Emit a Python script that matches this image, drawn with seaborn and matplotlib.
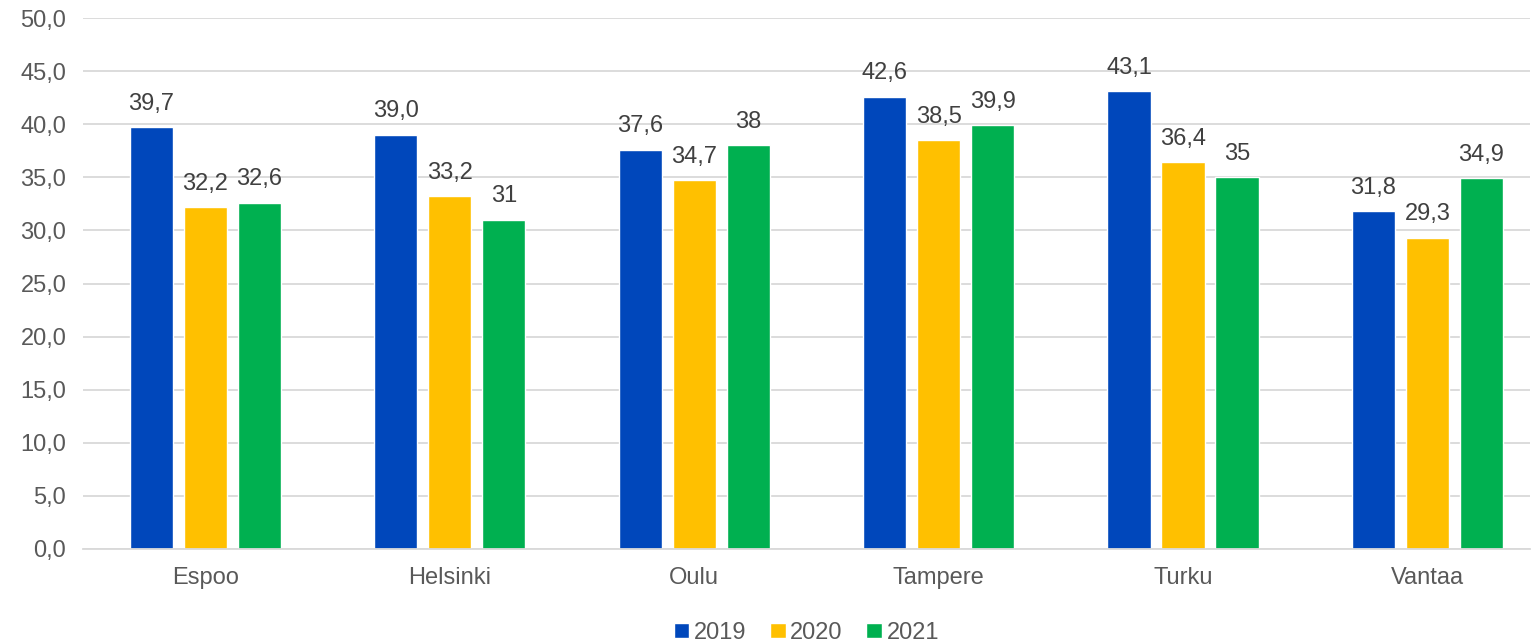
import matplotlib
matplotlib.use("Agg")
import matplotlib.pyplot as plt
import seaborn as sns
import pandas as pd

# data
cities = ["Espoo", "Helsinki", "Oulu", "Tampere", "Turku", "Vantaa"]
years = ["2019", "2020", "2021"]
v2019 = [39.7, 39.0, 37.6, 42.6, 43.1, 31.8]
v2020 = [32.2, 33.2, 34.7, 38.5, 36.4, 29.3]
v2021 = [32.6, 31.0, 38.0, 39.9, 35.0, 34.9]
# labels as shown in the original (some without decimals)
lab2019 = ["39,7", "39,0", "37,6", "42,6", "43,1", "31,8"]
lab2020 = ["32,2", "33,2", "34,7", "38,5", "36,4", "29,3"]
lab2021 = ["32,6", "31", "38", "39,9", "35", "34,9"]
yticks = [0, 5, 10, 15, 20, 25, 30, 35, 40, 45, 50]

colors = ["#0047BB", "#FFC000", "#00B050"]

rows = []
for y, vals in zip(years, [v2019, v2020, v2021]):
    for c, v in zip(cities, vals):
        rows.append({"city": c, "year": y, "value": v})
df = pd.DataFrame(rows)

sns.set_style("white")
plt.rcParams["font.family"] = ["Liberation Sans", "DejaVu Sans"]

fig = plt.figure(figsize=(15.32, 6.41), dpi=100)
ax = fig.add_axes([83 / 1532, 1 - 549 / 641, 1447 / 1532, 531 / 641])

sns.barplot(data=df, x="city", y="value", hue="year", order=cities,
            hue_order=years, palette=colors, width=0.663, gap=0.2,
            saturation=1, ax=ax, legend=True)

for cont, labs in zip(ax.containers, [lab2019, lab2020, lab2021]):
    ax.bar_label(cont, labels=labs, padding=9, fontsize=17, color="#404040")

ax.set_ylim(0, 50)
ax.set_xlim(-0.501, 5.42)
ax.set_yticks(yticks)
ax.set_yticklabels([f"{t:.1f}".replace(".", ",") for t in yticks])
ax.yaxis.grid(True, color="#D9D9D9", linewidth=1.3)
ax.set_axisbelow(True)
for s in ["top", "right", "left"]:
    ax.spines[s].set_visible(False)
ax.spines["bottom"].set_color("#D9D9D9")
ax.spines["bottom"].set_linewidth(1.3)
ax.tick_params(axis="both", length=0, labelsize=17, labelcolor="#595959")
ax.tick_params(axis="x", pad=13)
ax.tick_params(axis="y", pad=12)
ax.set_xlabel("")
ax.set_ylabel("")

handles, labels = ax.get_legend_handles_labels()
ax.legend(handles, labels, loc="lower center", bbox_to_anchor=(0.5, -0.205),
          ncol=3, frameon=False, fontsize=17, handlelength=0.65,
          handleheight=0.65, handletextpad=0.2, columnspacing=1.0,
          borderaxespad=0.2, labelcolor="#595959")

fig.savefig("out.png", dpi=100)
